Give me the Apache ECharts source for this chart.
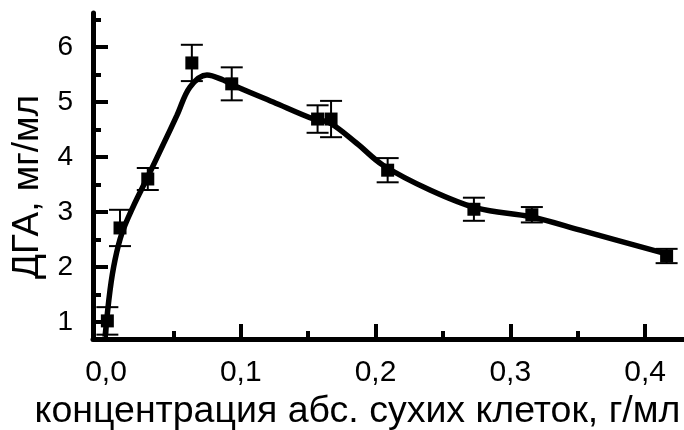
<!DOCTYPE html>
<html>
<head>
<meta charset="utf-8">
<script src="https://cdn.jsdelivr.net/npm/echarts@6/dist/echarts.min.js"></script>
<style>html,body{margin:0;padding:0;background:#fff}#c{width:684px;height:430px}</style>
</head>
<body>
<div id="c"></div>
<script>
// measured points with error bars
const concX = [0.001, 0.0104, 0.031, 0.0637, 0.0933, 0.157, 0.167, 0.209, 0.273, 0.316, 0.416];
const dgaY  = [1.02, 2.71, 3.60, 5.71, 5.33, 4.69, 4.69, 3.76, 3.05, 2.95, 2.20];
const dgaErr = [0.25, 0.33, 0.20, 0.33, 0.30, 0.25, 0.33, 0.22, 0.21, 0.14, 0.13];
// fitted curve
const fitX = [-0.0007, 0.003, 0.0067, 0.0119, 0.020, 0.031, 0.0423, 0.0527, 0.0623, 0.0749, 0.087, 0.094, 0.124, 0.154, 0.166, 0.186, 0.2056, 0.2404, 0.2753, 0.316, 0.352, 0.4186];
const fitY = [0.73, 1.58, 2.13, 2.62, 3.09, 3.64, 4.22, 4.76, 5.27, 5.49, 5.40, 5.31, 5.00, 4.69, 4.62, 4.25, 3.85, 3.40, 3.07, 2.91, 2.67, 2.22];
// tick labels
const xTicks = [0, 0.1, 0.2, 0.3, 0.4];
const xMinorTicks = [0.05, 0.15, 0.25, 0.35];
const yTicks = [1, 2, 3, 4, 5, 6];
const yMinorTicks = [1.5, 2.5, 3.5, 4.5, 5.5, 6.5];
const xTitle = 'концентрация абс. сухих клеток, г/мл';
const yTitle = 'ДГА, мг/мл';

const FONT = 'Liberation Sans';
const X_MIN = -0.00965, X_MAX = 0.4289, Y_MIN = 0.691, Y_MAX = 6.618;

const chart = echarts.init(document.getElementById('c'), null, {renderer: 'canvas'});
const commonX = {type: 'value', min: X_MIN, max: X_MAX, splitLine: {show: false}, position: 'bottom'};
const commonY = {type: 'value', min: Y_MIN, max: Y_MAX, splitLine: {show: false}, position: 'left'};

chart.setOption({
  animation: false,
  backgroundColor: '#fff',
  grid: {left: 93, right: 0, top: 13, bottom: 91, containLabel: false, outerBoundsMode: 'none'},
  xAxis: [
    Object.assign({}, commonX, {
      name: xTitle, nameLocation: 'middle', nameGap: 45,
      nameTextStyle: {fontFamily: FONT, fontSize: 37.5, color: '#000', padding: [0, 62, 0, 0]},
      axisLine: {show: true, onZero: false, lineStyle: {color: '#000', width: 5}},
      axisTick: {show: true, inside: true, length: 15, lineStyle: {color: '#000', width: 4}, customValues: xTicks},
      axisLabel: {show: true, margin: 19, fontFamily: FONT, fontSize: 30, color: '#000', customValues: xTicks,
        formatter: v => v.toFixed(1).replace('.', ',')}
    }),
    Object.assign({}, commonX, {
      axisLine: {show: false, onZero: false},
      axisTick: {show: true, inside: true, length: 8, lineStyle: {color: '#000', width: 4}, customValues: xMinorTicks},
      axisLabel: {show: false}
    })
  ],
  yAxis: [
    Object.assign({}, commonY, {
      name: yTitle, nameLocation: 'middle', nameGap: 46, nameRotate: 90,
      nameTextStyle: {fontFamily: FONT, fontSize: 37, color: '#000', padding: [0, 22, 0, 0]},
      axisLine: {show: true, onZero: false, lineStyle: {color: '#000', width: 5}},
      axisTick: {show: true, inside: true, length: 15, lineStyle: {color: '#000', width: 4}, customValues: yTicks},
      axisLabel: {show: true, margin: 20, fontFamily: FONT, fontSize: 28, color: '#000', customValues: yTicks,
        formatter: v => String(Math.round(v))}
    }),
    Object.assign({}, commonY, {
      axisLine: {show: false, onZero: false},
      axisTick: {show: true, inside: true, length: 8, lineStyle: {color: '#000', width: 4}, customValues: yMinorTicks},
      axisLabel: {show: false}
    })
  ],
  series: [
    {
      type: 'line', xAxisIndex: 0, yAxisIndex: 0,
      data: fitX.map((x, i) => [x, fitY[i]]),
      smooth: 0.35, showSymbol: false, symbol: 'none',
      lineStyle: {color: '#000', width: 5.5}, z: 2
    },
    {
      type: 'custom', xAxisIndex: 0, yAxisIndex: 0,
      data: concX.map((x, i) => [x, dgaY[i], dgaErr[i]]),
      renderItem: function (params, api) {
        const x = api.value(0), y = api.value(1), e = api.value(2);
        const top = api.coord([x, y + e]);
        const bot = api.coord([x, y - e]);
        const hw = 11;
        const st = {stroke: '#000', lineWidth: 2};
        return {type: 'group', children: [
          {type: 'line', shape: {x1: top[0], y1: top[1], x2: bot[0], y2: bot[1]}, style: st},
          {type: 'line', shape: {x1: top[0] - hw, y1: top[1], x2: top[0] + hw, y2: top[1]}, style: st},
          {type: 'line', shape: {x1: bot[0] - hw, y1: bot[1], x2: bot[0] + hw, y2: bot[1]}, style: st}
        ]};
      },
      z: 3
    },
    {
      type: 'scatter', xAxisIndex: 0, yAxisIndex: 0,
      data: concX.map((x, i) => [x, dgaY[i]]),
      symbol: 'rect', symbolSize: 13,
      itemStyle: {color: '#000', opacity: 1}, z: 4
    }
  ]
});
</script>
</body>
</html>
